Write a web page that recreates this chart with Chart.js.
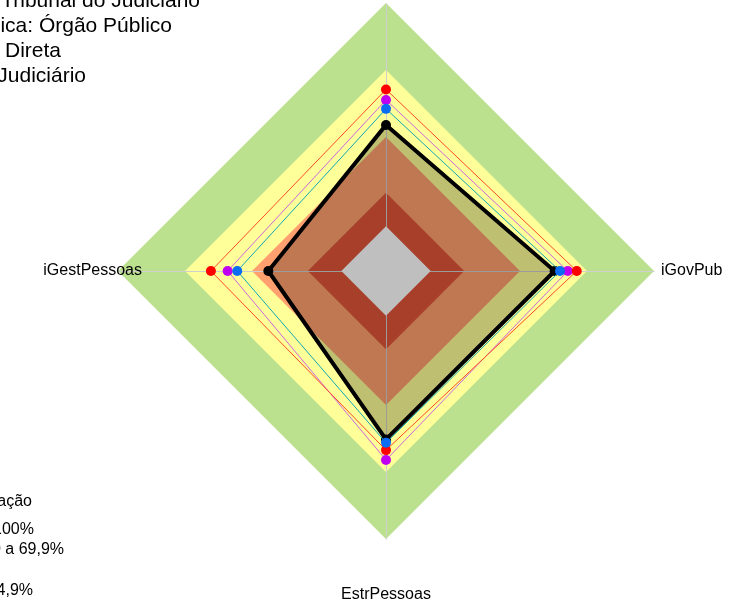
<!DOCTYPE html>
<html lang="pt-BR">
<head>
<meta charset="utf-8">
<title>Radar de governança</title>
<script src="https://cdn.jsdelivr.net/npm/chart.js@4.4.1/dist/chart.umd.min.js"></script>
<style>
  html, body { margin: 0; padding: 0; background: #fff; overflow: hidden; }
  #quadro { position: relative; width: 741px; height: 607px; overflow: hidden;
            font-family: "Liberation Sans", Arial, sans-serif; color: #000; }
  #grafico { position: absolute; left: 0; top: 0; }
  .linha { position: absolute; white-space: nowrap; text-align: right; }
  .titulo { font-size: 21px; line-height: 25px; }
  .legenda { font-size: 16px; line-height: 20px; }
</style>
</head>
<body>
<div id="quadro">
  <canvas id="grafico" width="741" height="607"></canvas>

  <!-- cabeçalho (cortado na borda esquerda, como no original) -->
  <div class="linha titulo" style="right:541px; top:-13px">Segmento: Tribunal do Judiciário</div>
  <div class="linha titulo" style="right:569px; top:12px">Natureza jurídica: Órgão Público</div>
  <div class="linha titulo" style="right:680px; top:37px">Esfera: Administração Direta</div>
  <div class="linha titulo" style="right:655px; top:62px">Poder: Judiciário</div>

  <!-- legenda das faixas -->
  <div class="linha legenda" style="right:709px; top:491px">Classificação</div>
  <div class="linha legenda" style="right:707px; top:519px">Aprimorado: 70 a 100%</div>
  <div class="linha legenda" style="right:677px; top:539px">Intermediário: 40 a 69,9%</div>
  <div class="linha legenda" style="right:751px; top:559px">Iniciando: 15 a 39,9%</div>
  <div class="linha legenda" style="right:708px; top:580px">Inexpressivo: 0 a 14,9%</div>
</div>

<script>
// Eixos do radar (sentido horário a partir do topo)
const eixos = ['iGG', 'iGovPub', 'EstrPessoas', 'iGestPessoas'];

// Séries (valores em %)
const organizacao   = [45.4, 55.5, 55.4, 32.7];
const mediaSegmento = [52.6, 57.9, 56.9, 46.6];
const mediaNatureza = [56.6, 61.4, 64.6, 50.9];
const mediaGeral    = [61.3, 65.4, 60.2, 58.4];

// Faixas de classificação (limite superior de cada faixa)
const faixasLimite = [100, 70, 40, 15, 0];
const faixasNome   = ['Aprimorado', 'Intermediário', 'Iniciando', 'Inexpressivo', 'Base'];
const faixasCor    = ['#BBE08E', '#FFFF99', '#FFA06E', '#E05538', '#FFFFFF'];

const escalaMin = -20;
const escalaMax = 100;

const faixasDatasets = faixasLimite.map((limite, i) => ({
    label: faixasNome[i],
    data: eixos.map(() => limite),
    backgroundColor: faixasCor[i],
    borderColor: 'transparent',
    borderWidth: 0,
    pointRadius: 0,
    fill: 'start',
    order: 9 - i
}));

function serie(label, dados, corLinha, corPonto, largura, ordem) {
    return {
        label: label,
        data: dados,
        borderColor: corLinha,
        borderWidth: largura,
        pointBackgroundColor: corPonto,
        pointBorderColor: corPonto,
        pointRadius: 5,
        pointBorderWidth: 0,
        fill: false,
        order: ordem
    };
}

const dsOrganizacao = serie('Organização', organizacao, '#000000', '#000000', 4, 4);
dsOrganizacao.fill = 'start';
dsOrganizacao.backgroundColor = 'rgba(0, 0, 0, 0.25)';

// linhas dos eixos por cima das faixas, mas sob a base central e as séries
const linhasEixos = {
    id: 'linhasEixos',
    afterDatasetDraw(chart, args) {
        if (chart.data.datasets[args.index].label !== 'Inexpressivo') return;
        const r = chart.scales.r;
        const ctx = chart.ctx;
        ctx.save();
        ctx.strokeStyle = '#CFCFCF';
        ctx.lineWidth = 1;
        eixos.forEach((_, i) => {
            const p = r.getPointPositionForValue(i, r.max);
            ctx.beginPath();
            ctx.moveTo(Math.round(r.xCenter) + 0.5, Math.round(r.yCenter) + 0.5);
            ctx.lineTo(Math.round(p.x) + 0.5, Math.round(p.y) + 0.5);
            ctx.stroke();
        });
        ctx.restore();
    }
};

// rótulos dos eixos no estilo da planilha original
const rotulosEixos = {
    id: 'rotulosEixos',
    afterDatasetsDraw(chart) {
        const r = chart.scales.r;
        const ctx = chart.ctx;
        const ajustes = [
            { dx: 0, dy: -20, align: 'center' },
            { dx: 7, dy: 0, align: 'left' },
            { dx: 0, dy: 56, align: 'center' },
            { dx: 24, dy: 0, align: 'right' }
        ];
        ctx.save();
        ctx.font = '16px "Liberation Sans", Arial, sans-serif';
        ctx.fillStyle = '#000';
        ctx.textBaseline = 'middle';
        eixos.forEach((nome, i) => {
            const p = r.getPointPositionForValue(i, r.max);
            ctx.textAlign = ajustes[i].align;
            ctx.fillText(nome, p.x + ajustes[i].dx, p.y + ajustes[i].dy);
        });
        ctx.restore();
    }
};

new Chart(document.getElementById('grafico'), {
    type: 'radar',
    data: {
        labels: eixos,
        datasets: [
            serie('Média do segmento', mediaSegmento, '#12A8B4', '#0A6CF2', 1, 1),
            serie('Média geral', mediaGeral, '#FF4A22', '#FF0000', 1, 2),
            serie('Média da natureza', mediaNatureza, '#CC66DD', '#C000F0', 1, 3),
            dsOrganizacao,
            ...faixasDatasets
        ]
    },
    options: {
        responsive: false,
        animation: false,
        layout: { padding: { left: 118, top: 3, right: 86, bottom: 67 } },
        elements: { line: { tension: 0 } },
        plugins: {
            legend: { display: false },
            tooltip: { enabled: false }
        },
        scales: {
            r: {
                min: escalaMin,
                max: escalaMax,
                ticks: { display: false },
                grid: { display: false },
                angleLines: { display: false },
                pointLabels: { display: false }
            }
        }
    },
    plugins: [linhasEixos, rotulosEixos]
});
</script>
</body>
</html>
